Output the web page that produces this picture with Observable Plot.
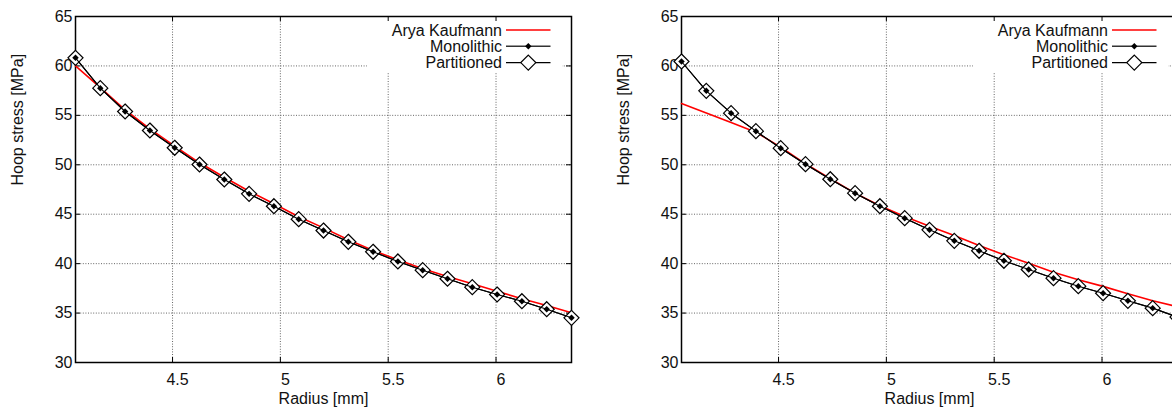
<!DOCTYPE html>
<html>
<head>
<meta charset="utf-8">
<script src="https://cdn.jsdelivr.net/npm/d3@7"></script>
<script src="https://cdn.jsdelivr.net/npm/@observablehq/plot@0.6"></script>
<style>
  html, body { margin: 0; padding: 0; background: #fff; overflow: hidden; }
  #wrap { display: flex; width: 1212px; }
</style>
</head>
<body>
<div id="wrap"></div>
<script>
// ---- data ----
const radius = [4.05, 4.165, 4.28, 4.395, 4.51, 4.625, 4.74, 4.855, 4.97, 5.085, 5.2,
                5.315, 5.43, 5.545, 5.66, 5.775, 5.89, 6.005, 6.12, 6.235, 6.35];

// left panel
const aryaLeft = [60.0, 57.8, 55.56, 53.64, 51.88, 50.2, 48.74, 47.33, 46.05, 44.75, 43.62,
                  42.41, 41.33, 40.39, 39.48, 38.7, 37.96, 37.21, 36.44, 35.77, 35.03];
const monoLeft = [60.82, 57.75, 55.39, 53.47, 51.72, 50.03, 48.51, 47.06, 45.81, 44.5, 43.35,
                  42.21, 41.2, 40.22, 39.34, 38.47, 37.62, 36.88, 36.2, 35.39, 34.52];
const partLeft = [60.82, 57.75, 55.39, 53.47, 51.72, 50.03, 48.51, 47.06, 45.81, 44.5, 43.35,
                  42.21, 41.2, 40.22, 39.34, 38.47, 37.62, 36.88, 36.2, 35.39, 34.52];

// right panel
const aryaRight = [56.2, 55.23, 54.27, 53.3, 51.78, 50.1, 48.6, 47.13, 45.85, 44.77, 43.79,
                   42.85, 41.84, 40.9, 40.05, 39.14, 38.37, 37.7, 36.95, 36.25, 35.65];
const monoRight = [60.45, 57.48, 55.22, 53.4, 51.68, 50.06, 48.54, 47.13, 45.81, 44.6, 43.42,
                   42.31, 41.3, 40.29, 39.41, 38.53, 37.72, 37.01, 36.24, 35.5, 34.6];
const partRight = [60.45, 57.48, 55.22, 53.4, 51.68, 50.06, 48.54, 47.13, 45.81, 44.6, 43.42,
                   42.31, 41.3, 40.29, 39.41, 38.53, 37.72, 37.01, 36.24, 35.5, 34.6];

const xTicks = [4.5, 5, 5.5, 6];
const yTicks = [30, 35, 40, 45, 50, 55, 60, 65];
const seriesNames = ["Arya Kaufmann", "Monolithic", "Partitioned"];
const xLabel = "Radius [mm]";
const yLabel = "Hoop stress [MPa]";

// ---- layout ----
const W = 606, H = 414;
const mL = 75, mR = 35, mT = 16, mB = 52;
const fw = W - mL - mR, fh = H - mT - mB;
const FONT = "'Liberation Sans', Arial, Helvetica, sans-serif";

function legendBox(index, scales, values, dims) {
  const right = dims.width - dims.marginRight;
  const top = dims.marginTop;
  const g = d3.create("svg:g");
  g.append("rect")
    .attr("x", right - 204).attr("y", top)
    .attr("width", 195).attr("height", 56)
    .attr("fill", "white");
  return g.node();
}

function legendItems(index, scales, values, dims) {
  const right = dims.width - dims.marginRight;
  const top = dims.marginTop;
  const g = d3.create("svg:g").attr("font-family", FONT).attr("font-size", 16);
  const rows = [top + 14, top + 30.3, top + 46.6];
  const x0 = right - 65, x1 = right - 20.5, xm = right - 42.7;
  const addText = (i) => g.append("text").attr("x", right - 69).attr("y", rows[i]).attr("dy", "0.35em")
    .attr("text-anchor", "end").attr("fill", "#111").text(seriesNames[i]);
  // Arya
  addText(0);
  g.append("line").attr("x1", x0).attr("x2", x1).attr("y1", rows[0]).attr("y2", rows[0])
    .attr("stroke", "red").attr("stroke-width", 1.5);
  // Monolithic
  addText(1);
  g.append("line").attr("x1", x0).attr("x2", x1).attr("y1", rows[1]).attr("y2", rows[1])
    .attr("stroke", "#333").attr("stroke-width", 1.5);
  g.append("path").attr("d", d3.symbol(d3.symbolDiamond2, 2.9 * 2.9 * Math.PI)())
    .attr("transform", `translate(${xm},${rows[1]})`).attr("fill", "black");
  // Partitioned
  addText(2);
  g.append("line").attr("x1", x0).attr("x2", x1).attr("y1", rows[2]).attr("y2", rows[2])
    .attr("stroke", "black").attr("stroke-width", 1.2);
  g.append("path").attr("d", d3.symbol(d3.symbolDiamond2, 6.76 * 6.76 * Math.PI)())
    .attr("transform", `translate(${xm},${rows[2]})`)
    .attr("fill", "white").attr("stroke", "black").attr("stroke-width", 1.2);
  return g.node();
}

function panel(arya, mono, part) {
  const A = radius.map((r, i) => ({r, v: arya[i]}));
  const M = radius.map((r, i) => ({r, v: mono[i]}));
  const P = radius.map((r, i) => ({r, v: part[i]}));
  return Plot.plot({
    width: W, height: H,
    marginLeft: mL, marginRight: mR, marginTop: mT, marginBottom: mB,
    style: {fontFamily: FONT, fontSize: "16px", background: "white", color: "#111", overflow: "visible"},
    x: {domain: [4.05, 6.35]},
    y: {domain: [30, 65]},
    marks: [
      Plot.gridX(xTicks, {stroke: "#666", strokeOpacity: 1, strokeDasharray: "1,1.6"}),
      Plot.gridY(yTicks.slice(1, -1), {stroke: "#666", strokeOpacity: 1, strokeDasharray: "1,1.6"}),
      legendBox,
      Plot.tickX(xTicks, {x: d => d, insetTop: fh - 5, stroke: "black"}),
      Plot.tickX(xTicks, {x: d => d, insetBottom: fh - 5, stroke: "black"}),
      Plot.tickY(yTicks, {y: d => d, insetRight: fw - 5, stroke: "black"}),
      Plot.tickY(yTicks, {y: d => d, insetLeft: fw - 5, stroke: "black"}),
      Plot.frame({stroke: "black", strokeWidth: 1.5}),
      Plot.axisX({ticks: xTicks, tickSize: 0, tickPadding: 11, dx: 5, label: null, fontSize: 16,
                  tickFormat: d => String(d)}),
      Plot.axisY({ticks: yTicks, tickSize: 0, tickPadding: 3, label: null, fontSize: 16,
                  tickFormat: d => String(d)}),
      Plot.text([xLabel], {frameAnchor: "bottom", dy: 41.4, fontSize: 16, fill: "#111"}),
      Plot.text([yLabel], {frameAnchor: "left", rotate: -90, dx: -57.5, dy: -4, fontSize: 16, fill: "#111"}),
      Plot.line(A, {x: "r", y: "v", stroke: "red", strokeWidth: 1.6}),
      Plot.line(P, {x: "r", y: "v", stroke: "black", strokeWidth: 1.1}),
      Plot.dot(P, {x: "r", y: "v", symbol: "diamond2", r: 6.76, fill: "white", stroke: "black", strokeWidth: 1.2}),
      Plot.line(M, {x: "r", y: "v", stroke: "black", strokeWidth: 1.1}),
      Plot.dot(M, {x: "r", y: "v", symbol: "diamond2", r: 2.9, fill: "black", stroke: "none"}),
      legendItems
    ]
  });
}

const wrap = document.getElementById("wrap");
wrap.appendChild(panel(aryaLeft, monoLeft, partLeft));
wrap.appendChild(panel(aryaRight, monoRight, partRight));
</script>
</body>
</html>
